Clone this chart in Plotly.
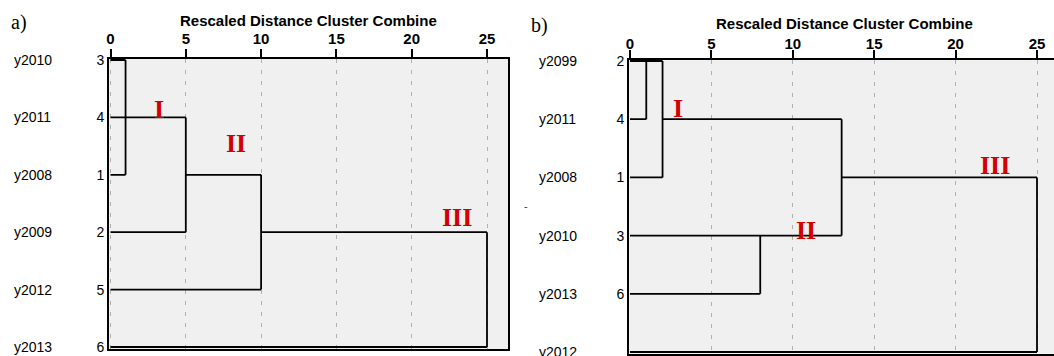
import plotly.graph_objects as go

W, H = 1054, 356

# ---------------- data ----------------
left_labels = ["y2010", "y2011", "y2008", "y2009", "y2012", "y2013"]
left_ids = ["3", "4", "1", "2", "5", "6"]
# horizontal segments: row, from distance, to distance
left_h_row = [0, 2, 1, 3, 2, 4, 3, 5]
left_h_from = [0, 0, 0, 0, 5, 0, 10, 0]
left_h_to = [1, 1, 5, 5, 10, 10, 25, 25]
# vertical segments: distance, from row, to row
left_v_x = [1, 5, 10, 25]
left_v_from = [0, 1, 2, 3]
left_v_to = [2, 3, 4, 5]
left_groups = ["I", "II", "III"]
left_group_x = [3.2, 8.3, 23.0]
left_group_row = [0.86, 1.46, 2.74]

right_labels = ["y2099", "y2011", "y2008", "y2010", "y2013", "y2012"]
right_ids = ["2", "4", "1", "3", "6", "5"]
right_h_row = [0, 1, 1, 2, 2, 3, 4, 5]
right_h_from = [0, 0, 2, 0, 13, 0, 0, 0]
right_h_to = [2, 1, 13, 2, 25, 13, 8, 25]
right_v_x = [1, 2, 8, 13, 25]
right_v_from = [0, 0, 3, 1, 2]
right_v_to = [1, 2, 4, 3, 5]
right_groups = ["I", "II", "III"]
right_group_x = [2.95, 10.8, 22.4]
right_group_row = [0.82, 2.91, 1.79]

dist_ticks = [0, 5, 10, 15, 20, 25]
axis_title = "Rescaled Distance Cluster Combine"


def segments(h_row, h_from, h_to, v_x, v_from, v_to):
    xs, ys = [], []
    for r, a, b in zip(h_row, h_from, h_to):
        xs += [a, b, None]
        ys += [r, r, None]
    for x, a, b in zip(v_x, v_from, v_to):
        xs += [x, x, None]
        ys += [a, b, None]
    return xs, ys


fig = go.Figure()
lx, ly = segments(left_h_row, left_h_from, left_h_to, left_v_x, left_v_from, left_v_to)
rx, ry = segments(right_h_row, right_h_from, right_h_to, right_v_x, right_v_from, right_v_to)
fig.add_trace(go.Scatter(x=lx, y=ly, mode="lines", line=dict(color="black", width=1.8),
                         xaxis="x", yaxis="y", hoverinfo="skip", showlegend=False))
fig.add_trace(go.Scatter(x=rx, y=ry, mode="lines", line=dict(color="black", width=1.8),
                         xaxis="x2", yaxis="y2", hoverinfo="skip", showlegend=False))

# ---------------- geometry (pixels) ----------------
# left panel
L0, Lu = 110.5, (487 - 110.5) / 25
Lx0, Lx1 = 109, 508
Lr0, Lru = 60, 57.4
Ly0, Ly1 = 58.5, 349
# right panel
R0, Ru = 630, (1037 - 630) / 25
Rx0, Rx1 = 629, 1054
Rr0, Rru = 61, 58.2
Ry0, Ry1 = 59.5, 353.5

tickfont = dict(family="Liberation Sans, Arial", size=15, color="black", weight="bold")
labfont = dict(family="Liberation Sans, Arial", size=14, color="black")


def xaxis(d0, d1, o, u, standoff):
    return dict(domain=[d0 / W, d1 / W], range=[(d0 - o) / u, (d1 - o) / u], automargin=False,
                side="top", tickvals=dist_ticks, ticks="outside", ticklen=8, tickwidth=2,
                tickcolor="black", tickfont=tickfont, ticklabelstandoff=standoff,
                showgrid=True, gridcolor="#b0b0b0", gridwidth=1, griddash="4px,7px",
                zeroline=False, showline=True, linecolor="black", linewidth=2, mirror=True)


def yaxis(d0, d1, o, u, ids, anchor):
    return dict(domain=[1 - d1 / H, 1 - d0 / H], range=[5 + (d1 - (o + 5 * u)) / u, -(o - d0) / u],
                automargin=False,
                tickvals=list(range(6)), ticktext=ids, ticks="", tickfont=labfont,
                showgrid=False, zeroline=False, showline=True, linecolor="black",
                linewidth=2, mirror=True, anchor=anchor)


fig.update_layout(
    width=W, height=H, margin=dict(l=0, r=0, t=0, b=0, pad=0, autoexpand=False),
    template="none",
    paper_bgcolor="white", plot_bgcolor="#f0f0f0",
    xaxis=dict(xaxis(Lx0, Lx1, L0, Lu, -1), anchor="y"),
    yaxis=yaxis(Ly0, Ly1, Lr0, Lru, left_ids, "x"),
    xaxis2=dict(xaxis(Rx0, Rx1, R0, Ru, -5), anchor="y2"),
    yaxis2=yaxis(Ry0, Ry1, Rr0, Rru, right_ids, "x2"),
)

ann = []
for i, lab in enumerate(left_labels):
    ann.append(dict(text=lab, x=12 / W, xref="paper", y=i, yref="y", xanchor="left",
                    yanchor="middle", showarrow=False, font=labfont))
for i, lab in enumerate(right_labels):
    ann.append(dict(text=lab, x=537 / W, xref="paper", y=i, yref="y2", xanchor="left",
                    yanchor="middle", showarrow=False, font=labfont))
redfont = dict(family="Liberation Serif, Times New Roman", size=26, color="#d40000", weight="bold")
for g, x, r in zip(left_groups, left_group_x, left_group_row):
    ann.append(dict(text=g, x=x, y=r, xref="x", yref="y", xanchor="center", yanchor="middle",
                    showarrow=False, font=redfont))
for g, x, r in zip(right_groups, right_group_x, right_group_row):
    ann.append(dict(text=g, x=x, y=r, xref="x2", yref="y2", xanchor="center", yanchor="middle",
                    showarrow=False, font=redfont))
titlefont = dict(family="Liberation Sans, Arial", size=15, color="black", weight="bold")
ann.append(dict(text=axis_title, x=308 / W, y=1 - 20 / H, xref="paper", yref="paper",
                xanchor="center", yanchor="middle", showarrow=False, font=titlefont))
ann.append(dict(text=axis_title, x=844 / W, y=1 - 24 / H, xref="paper", yref="paper",
                xanchor="center", yanchor="middle", showarrow=False, font=titlefont))
panelfont = dict(family="Liberation Serif, Times New Roman", size=20, color="black")
ann.append(dict(text="a)", x=9 / W, y=1 - 23 / H, xref="paper", yref="paper", xanchor="left",
                yanchor="middle", showarrow=False, font=panelfont))
ann.append(dict(text="b)", x=529 / W, y=1 - 26 / H, xref="paper", yref="paper", xanchor="left",
                yanchor="middle", showarrow=False, font=panelfont))
ann.append(dict(text="-", x=526 / W, y=1 - 206 / H, xref="paper", yref="paper", xanchor="center",
                yanchor="middle", showarrow=False,
                font=dict(family="Liberation Sans, Arial", size=11, color="#333333")))
fig.update_layout(annotations=ann)

fig.write_html("out.html", config={"displayModeBar": False},
               post_script="document.body.style.margin='0px';")
